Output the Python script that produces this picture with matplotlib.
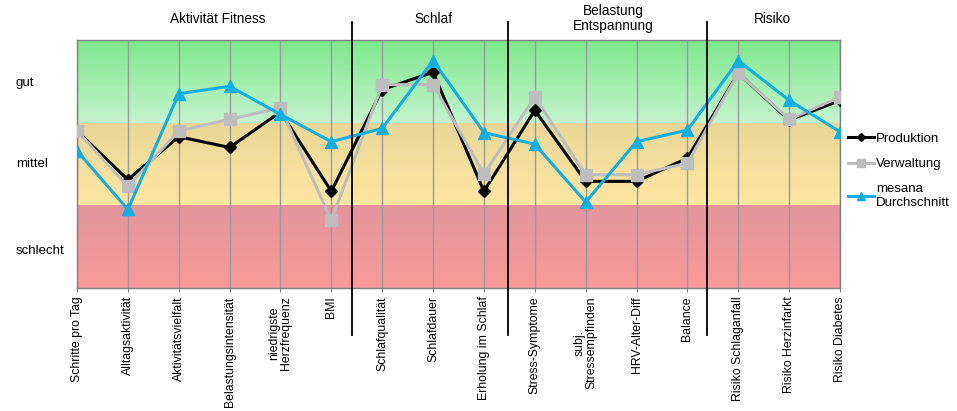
import numpy as np
import matplotlib
matplotlib.use("Agg")
import matplotlib.pyplot as plt
from matplotlib.colors import LinearSegmentedColormap

plt.rcParams['font.family'] = ['Liberation Sans', 'DejaVu Sans']

categories = ["Schritte pro Tag", "Alltagsaktivität", "Aktivitätsvielfalt",
              "Belastungsintensität", "niedrigste\nHerzfrequenz", "BMI",
              "Schlafqualität", "Schlafdauer", "Erholung im Schlaf",
              "Stress-Symptome", "subj.\nStressempfinden", "HRV-Alter-Diff",
              "Balance", "Risiko Schlaganfall", "Risiko Herzinfarkt", "Risiko Diabetes"]

produktion = [1.90, 1.31, 1.83, 1.70, 2.13, 1.17, 2.40, 2.61, 1.17,
              2.15, 1.29, 1.29, 1.57, 2.60, 2.03, 2.27]
verwaltung = [1.90, 1.23, 1.90, 2.04, 2.18, 0.82, 2.46, 2.46, 1.38,
              2.31, 1.37, 1.37, 1.51, 2.60, 2.04, 2.31]
mesana = [1.66, 0.95, 2.35, 2.44, 2.10, 1.77, 1.93, 2.75, 1.88,
          1.74, 1.04, 1.77, 1.91, 2.75, 2.27, 1.89]

series_names = ["Produktion", "Verwaltung", "mesana\nDurchschnitt"]
level_labels = ["schlecht", "mittel", "gut"]
sections = ["Aktivität Fitness", "Schlaf", "Belastung\nEntspannung", "Risiko"]
section_centers = [2.76, 7.0, 10.55, 13.67]
separators = [5.4, 8.47, 12.38]

W, H = 957, 411
fig = plt.figure(figsize=(W / 100, H / 100), dpi=100)
ax = fig.add_axes([77 / W, 1 - 288 / H, (840 - 77) / W, (288 - 40) / H])

n = len(categories)
x = np.arange(n)
ax.set_xlim(0, n - 1)
ax.set_ylim(0, 3)

bands = [
    (0, 1, "#F89A98", "#E2959C"),   # bottom color, top color
    (1, 2, "#FDE6A0", "#E9D797"),
    (2, 3, "#C4F3CE", "#7EE88C"),
]
for y0, y1, cbot, ctop in bands:
    cmap = LinearSegmentedColormap.from_list("g", [cbot, ctop])
    grad = np.linspace(0, 1, 256).reshape(-1, 1)
    ax.imshow(grad, extent=(0, n - 1, y0, y1), origin="lower", aspect="auto",
              cmap=cmap, zorder=0)

for xi in x:
    ax.axvline(xi, color="#9a9a9a", lw=1.0, zorder=1)

for sp in ax.spines.values():
    sp.set_color("#808080")
    sp.set_linewidth(1.0)

ax.plot(x, produktion, color="black", lw=2.2, marker="D", ms=6, zorder=3,
        label=series_names[0])
ax.plot(x, verwaltung, color="#BDBDBD", lw=2.2, marker="s", ms=8, zorder=4,
        label=series_names[1])
ax.plot(x, mesana, color="#12AEE6", lw=2.2, marker="^", ms=8, zorder=5,
        label=series_names[2])

ax.set_xticks(x)
ax.set_xticklabels(categories, rotation=90, fontsize=8.8, va="top", ha="center",
                   linespacing=1.0)
ax.tick_params(axis="x", length=3, color="#808080", pad=3)
ax.set_yticks([])

level_y = [251, 164, 83]
for lab, py in zip(level_labels, level_y):
    fig.text(16 / W, 1 - py / H, lab, fontsize=9.5, ha="left", va="center")

for s in separators:
    ax.plot([s, s], [-0.57, 3.22], color="black", lw=1.3, clip_on=False, zorder=6)

for name, cx in zip(sections, section_centers):
    xf = ax.transData.transform((cx, 0))[0] / W
    py = 19 if "\n" not in name else 18.5
    fig.text(xf, 1 - py / H, name, ha="center", va="center", fontsize=9.8,
             linespacing=1.15)

leg = ax.legend(loc="upper left", bbox_to_anchor=(1.003, 0.648), frameon=False,
                fontsize=9.5, handlelength=2.0, handletextpad=0.15,
                labelspacing=1.0, borderaxespad=0, markerscale=0.7)
for t in leg.get_texts():
    t.set_linespacing(1.15)

fig.savefig("out.png", dpi=100)
